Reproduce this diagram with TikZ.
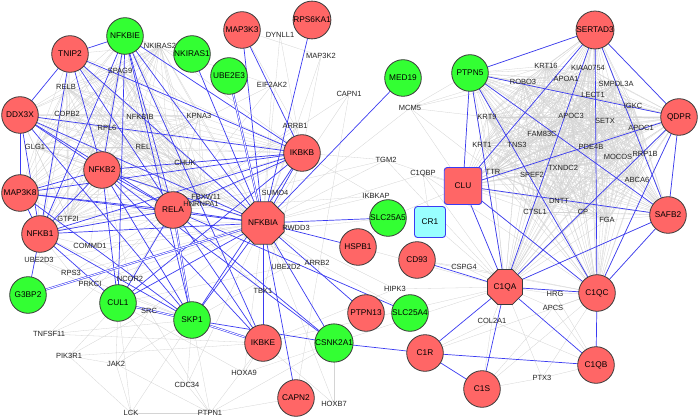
\documentclass[tikz,border=0pt]{standalone}
\usepackage{fontspec}
\setmainfont{Liberation Sans}
\usetikzlibrary{shapes.geometric,backgrounds}
\definecolor{nred}{HTML}{FF6666}
\definecolor{ngreen}{HTML}{33FF33}
\definecolor{ncyan}{HTML}{99FFFF}
\definecolor{ecol}{HTML}{3B3BF2}
\definecolor{ndraw}{HTML}{3A3A3A}
\begin{document}
\begin{tikzpicture}[x=1pt,y=-1pt,
  rn/.style={circle,draw=ndraw,line width=0.8pt,fill=nred,minimum size=36.6pt,inner sep=0pt,font=\fontsize{8.3}{9}\selectfont},
  gn/.style={rn,fill=ngreen},
  octn/.style={regular polygon,regular polygon sides=8,draw=ndraw,line width=0.8pt,fill=nred,minimum size=38pt,inner sep=0pt,font=\fontsize{8.3}{9}\selectfont},
  sqn/.style={rectangle,rounded corners=3pt,draw=ecol,line width=0.9pt,fill=nred,minimum width=37.5pt,minimum height=37pt,inner sep=0pt,font=\fontsize{8.3}{9}\selectfont},
  lb/.style={inner sep=0pt,font=\fontsize{7.5}{8}\selectfont,text=black!85},
  be/.style={draw=ecol,line width=0.7pt},
  bd/.style={draw=ecol,line width=0.55pt,double=white,double distance=0.9pt},
  ge/.style={draw=black!17,line width=0.3pt}]
\useasboundingbox (0,0) rectangle (700,419);
% ---- main nodes
\node[rn] (TNIP2) at (70,54) {TNIP2};
\node[gn] (NFKBIE) at (125,36) {NFKBIE};
\node[gn] (NKIRAS1) at (192,54) {NKIRAS1};
\node[rn] (MAP3K3) at (242,30) {MAP3K3};
\node[rn] (RPS6KA1) at (312,20) {RPS6KA1};
\node[gn] (UBE2E3) at (229,76) {UBE2E3};
\node[gn] (MED19) at (403,78) {MED19};
\node[gn] (PTPN5) at (470,73) {PTPN5};
\node[rn] (SERTAD3) at (595,30) {SERTAD3};
\node[rn] (QDPR) at (679,117) {QDPR};
\node[rn] (DDX3X) at (20,115) {DDX3X};
\node[rn] (MAP3K8) at (20,193) {MAP3K8};
\node[rn] (NFKB2) at (102,170) {NFKB2};
\node[rn] (RELA) at (173,210) {RELA};
\node[rn] (NFKB1) at (40,234) {NFKB1};
\node[rn] (IKBKB) at (302,153) {IKBKB};
\node[octn] (NFKBIA) at (263,223) {NFKBIA};
\node[gn] (SLC25A5) at (388,218) {SLC25A5};
\node[rn] (HSPB1) at (358,247) {HSPB1};
\node[sqn,fill=ncyan,minimum width=31pt,minimum height=31pt] (CR1) at (430,222) {CR1};
\node[sqn] (CLU) at (463,186) {CLU};
\node[rn] (CD93) at (417,260) {CD93};
\node[rn] (SAFB2) at (668,215) {SAFB2};
\node[octn] (C1QA) at (505,287) {C1QA};
\node[rn] (C1QC) at (597,293) {C1QC};
\node[rn] (C1QB) at (596,365) {C1QB};
\node[rn] (C1S) at (482,389) {C1S};
\node[rn] (C1R) at (425,353) {C1R};
\node[gn] (CSNK2A1) at (334,343) {CSNK2A1};
\node[rn] (PTPN13) at (366,313) {PTPN13};
\node[gn] (SLC25A4) at (410,313) {SLC25A4};
\node[rn] (IKBKE) at (263,343) {IKBKE};
\node[rn] (CAPN2) at (296,398) {CAPN2};
\node[gn] (SKP1) at (192,320) {SKP1};
\node[gn] (CUL1) at (118,303) {CUL1};
\node[gn] (G3BP2) at (28,295) {G3BP2};
% ---- small labels
\node[lb] (NKIRAS2) at (160,46) {NKIRAS2};
\node[lb] (SPAG9) at (120,71) {SPAG9};
\node[lb] (RELB) at (66,87) {RELB};
\node[lb] (COPB2) at (67,114) {COPB2};
\node[lb] (NFKBIB) at (140,117) {NFKBIB};
\node[lb] (KPNA3) at (199,116) {KPNA3};
\node[lb] (RPL6) at (107,128) {RPL6};
\node[lb] (REL) at (143,147) {REL};
\node[lb] (CHUK) at (185,163) {CHUK};
\node[lb] (GLG1) at (35,147) {GLG1};
\node[lb] (FBXW11) at (206,197) {FBXW11};
\node[lb] (HNRNPA1) at (201,204) {HNRNPA1};
\node[lb] (GTF2I) at (68,219) {GTF2I};
\node[lb] (COMMD1) at (90,246) {COMMD1};
\node[lb] (UBE2D3) at (39,260) {UBE2D3};
\node[lb] (RPS3) at (71,273) {RPS3};
\node[lb] (NCOR2) at (130,279) {NCOR2};
\node[lb] (PRKCI) at (90,284) {PRKCI};
\node[lb] (SRC) at (149,311) {SRC};
\node[lb] (TNFSF11) at (49,334) {TNFSF11};
\node[lb] (PIK3R1) at (69,356) {PIK3R1};
\node[lb] (JAK2) at (116,364) {JAK2};
\node[lb] (CDC34) at (187,385) {CDC34};
\node[lb] (LCK) at (131,413) {LCK};
\node[lb] (PTPN1) at (210,413) {PTPN1};
\node[lb] (HOXA9) at (244,373) {HOXA9};
\node[lb] (HOXB7) at (334,404) {HOXB7};
\node[lb] (TBK1) at (263,291) {TBK1};
\node[lb] (HIPK3) at (395,289) {HIPK3};
\node[lb] (SUMO4) at (275,193) {SUMO4};
\node[lb] (RWDD3) at (296,228) {RWDD3};
\node[lb] (UBE2D2) at (286,267) {UBE2D2};
\node[lb] (ARRB2) at (317,263) {ARRB2};
\node[lb] (ARRB1) at (295,126) {ARRB1};
\node[lb] (DYNLL1) at (280,35) {DYNLL1};
\node[lb] (MAP3K2) at (321,56) {MAP3K2};
\node[lb] (EIF2AK2) at (272,85) {EIF2AK2};
\node[lb] (CAPN1) at (349,94) {CAPN1};
\node[lb] (MCM5) at (410,108) {MCM5};
\node[lb] (TGM2) at (386,160) {TGM2};
\node[lb] (C1QBP) at (423,174) {C1QBP};
\node[lb] (IKBKAP) at (376,196) {IKBKAP};
\node[lb] (CSPG4) at (464,267) {CSPG4};
\node[lb] (HRG) at (555,294) {HRG};
\node[lb] (APCS) at (553,308) {APCS};
\node[lb] (COL2A1) at (492,321) {COL2A1};
\node[lb] (PTX3) at (542,378) {PTX3};
\node[lb] (KRT16) at (546,66) {KRT16};
\node[lb] (KIAA0754) at (588,68) {KIAA0754};
\node[lb] (ROBO3) at (523,82) {ROBO3};
\node[lb] (APOA1) at (566,79) {APOA1};
\node[lb] (SMPDL3A) at (616,84) {SMPDL3A};
\node[lb] (LECT1) at (593,95) {LECT1};
\node[lb] (IGKC) at (633,106) {IGKC};
\node[lb] (KRT9) at (487,117) {KRT9};
\node[lb] (APOC3) at (571,116) {APOC3};
\node[lb] (SETX) at (605,121) {SETX};
\node[lb] (APOC1) at (641,128) {APOC1};
\node[lb] (FAM83C) at (542,134) {FAM83C};
\node[lb] (KRT1) at (482,145) {KRT1};
\node[lb] (TNS3) at (517,145) {TNS3};
\node[lb] (PDE4B) at (591,147) {PDE4B};
\node[lb] (MOCOS) at (618,157) {MOCOS};
\node[lb] (RRP1B) at (645,154) {RRP1B};
\node[lb] (TXNDC2) at (563,168) {TXNDC2};
\node[lb] (TTR) at (493,172) {TTR};
\node[lb] (SPEF2) at (532,175) {SPEF2};
\node[lb] (ABCA6) at (637,180) {ABCA6};
\node[lb] (DNTT) at (559,201) {DNTT};
\node[lb] (CTSL1) at (535,212) {CTSL1};
\node[lb] (CP) at (583,212) {CP};
\node[lb] (FGA) at (607,220) {FGA};
% ---- edges
\begin{pgfonlayer}{background}
\fill[white] (0,0) rectangle (700,419);
% right cluster (dense grey mesh)
\foreach \a [count=\i] in {PTPN5,SERTAD3,QDPR,SAFB2,C1QC,C1QA,CLU,KRT16,KIAA0754,ROBO3,APOA1,SMPDL3A,LECT1,IGKC,KRT9,APOC3,SETX,APOC1,FAM83C,KRT1,TNS3,PDE4B,MOCOS,RRP1B,TXNDC2,TTR,SPEF2,ABCA6,DNTT,CTSL1,CP,FGA}{
  \foreach \b [count=\j] in {PTPN5,SERTAD3,QDPR,SAFB2,C1QC,C1QA,CLU,KRT16,KIAA0754,ROBO3,APOA1,SMPDL3A,LECT1,IGKC,KRT9,APOC3,SETX,APOC1,FAM83C,KRT1,TNS3,PDE4B,MOCOS,RRP1B,TXNDC2,TTR,SPEF2,ABCA6,DNTT,CTSL1,CP,FGA}{
    \ifnum\j>\i \draw[ge] (\a.center) -- (\b.center); \fi
  }
}
% upper-left grey mesh
\foreach \a [count=\i] in {NKIRAS2,SPAG9,RELB,COPB2,NFKBIB,RPL6,REL,CHUK,GLG1,FBXW11,HNRNPA1,GTF2I,KPNA3}{
  \foreach \b [count=\j] in {NKIRAS2,SPAG9,RELB,COPB2,NFKBIB,RPL6,REL,CHUK,GLG1,FBXW11,HNRNPA1,GTF2I,KPNA3}{
    \ifnum\j>\i \draw[ge] (\a.center) -- (\b.center); \fi
  }
  \foreach \b in {NFKBIA,RELA,NFKB1,NFKB2,NFKBIE,TNIP2,DDX3X,MAP3K8,IKBKB}{
    \draw[ge] (\a.center) -- (\b.center);
  }
}
% other grey edges
\foreach \a/\b in {COMMD1/NFKBIA,COMMD1/RELA,COMMD1/NFKB1,COMMD1/NFKB2,
  UBE2D3/NFKBIA,UBE2D3/CUL1,UBE2D3/SKP1,UBE2D3/NFKB1,
  RPS3/RELA,RPS3/NFKB1,RPS3/NFKBIA,PRKCI/NFKBIA,PRKCI/RELA,PRKCI/SKP1,
  NCOR2/RELA,NCOR2/NFKB1,NCOR2/NFKBIA,NCOR2/NFKB2,
  SRC/CUL1,SRC/SKP1,SRC/NFKBIA,SRC/JAK2,SRC/PTPN1,SRC/PIK3R1,
  TNFSF11/CUL1,TNFSF11/SKP1,TNFSF11/RELA,TNFSF11/IKBKE,
  PIK3R1/JAK2,PIK3R1/CUL1,PIK3R1/LCK,PIK3R1/IKBKE,
  JAK2/PTPN1,JAK2/CUL1,JAK2/LCK,JAK2/SKP1,
  CDC34/SKP1,CDC34/CUL1,CDC34/NFKBIA,CDC34/PTPN1,
  LCK/PTPN1,LCK/SKP1,LCK/CUL1,
  PTPN1/SKP1,PTPN1/CSNK2A1,PTPN1/CAPN2,PTPN1/IKBKE,
  HOXA9/IKBKE,HOXA9/CUL1,HOXA9/CSNK2A1,HOXA9/NFKBIA,
  HOXB7/CSNK2A1,HOXB7/IKBKE,HOXB7/NFKBIA,
  TBK1/NFKBIA,TBK1/IKBKE,TBK1/IKBKB,TBK1/RELA,
  SUMO4/NFKBIA,SUMO4/RELA,SUMO4/IKBKB,
  RWDD3/NFKBIA,RWDD3/SLC25A5,RWDD3/RELA,
  UBE2D2/NFKBIA,UBE2D2/CUL1,UBE2D2/SKP1,
  ARRB2/NFKBIA,ARRB2/SLC25A4,ARRB2/RELA,
  ARRB1/NFKBIA,ARRB1/IKBKB,ARRB1/MAP3K3,ARRB1/RELA,
  DYNLL1/NFKBIA,DYNLL1/IKBKB,
  MAP3K2/NFKBIA,MAP3K2/MAP3K3,MAP3K2/IKBKB,
  EIF2AK2/NFKBIA,EIF2AK2/RELA,EIF2AK2/NFKBIE,EIF2AK2/NFKB2,
  CAPN1/NFKBIA,CAPN1/CAPN2,CAPN1/RELA,
  MCM5/PTPN5,MCM5/NFKBIA,MCM5/KRT9,MCM5/ROBO3,MCM5/KRT16,MCM5/CLU,MCM5/TTR,
  TGM2/CLU,TGM2/NFKBIA,TGM2/C1QA,TGM2/RELA,TGM2/IKBKB,
  C1QBP/CLU,C1QBP/C1QA,C1QBP/C1QC,C1QBP/NFKBIA,C1QBP/CR1,
  IKBKAP/NFKBIA,IKBKAP/IKBKB,IKBKAP/RELA,
  HIPK3/C1QA,HIPK3/NFKBIA,HIPK3/IKBKE,
  CSPG4/CD93,CSPG4/C1QA,CSPG4/C1QC,
  HRG/C1QA,HRG/C1QC,HRG/C1QB,APCS/C1QA,APCS/C1QC,APCS/C1QB,APCS/C1S,
  PTX3/C1QA,PTX3/C1QC,PTX3/C1QB,PTX3/C1S,
  COL2A1/C1QA,COL2A1/C1R,COL2A1/C1S,COL2A1/C1QB,
  C1S/C1QC,C1R/C1QC,C1QA/IKBKE,C1QA/CSNK2A1,HSPB1/SLC25A5,HSPB1/C1QA,
  SLC25A5/CLU,CD93/C1QC,CR1/C1QA}{
  \draw[ge] (\a.center) -- (\b.center);
}
% blue edges, left part
\foreach \b in {RELA,NFKB1,NFKB2,NFKBIE,TNIP2,DDX3X,MAP3K8,IKBKB,IKBKE,SKP1,CUL1,NKIRAS1,MAP3K3,RPS6KA1,CAPN2,CSNK2A1,PTPN13,HSPB1,SLC25A5,MED19}{
  \draw[be] (NFKBIA.center) -- (\b.center);
}
\foreach \a/\b in {RELA/NFKB1,RELA/NFKB2,RELA/NFKBIE,RELA/TNIP2,RELA/DDX3X,RELA/MAP3K8,RELA/IKBKB,RELA/IKBKE,RELA/CUL1,RELA/CSNK2A1,RELA/SLC25A4,
  NFKB1/NFKB2,NFKB1/NFKBIE,NFKB1/TNIP2,NFKB1/DDX3X,NFKB1/MAP3K8,NFKB1/IKBKB,NFKB1/G3BP2,NFKB1/SKP1,NFKB1/CUL1,
  NFKB2/NFKBIE,NFKB2/TNIP2,NFKB2/DDX3X,NFKB2/MAP3K8,NFKB2/IKBKB,NFKB2/SKP1,NFKB2/IKBKE,NFKB2/CSNK2A1,
  NFKBIE/TNIP2,NFKBIE/IKBKB,NFKBIE/CUL1,NFKBIE/SKP1,NFKBIE/IKBKE,
  TNIP2/DDX3X,TNIP2/IKBKB,DDX3X/MAP3K8,DDX3X/IKBKB,DDX3X/SKP1,
  MAP3K8/IKBKB,MAP3K8/SKP1,IKBKB/MAP3K3,IKBKB/SKP1,IKBKB/CUL1,
  CUL1/NFKB2,SKP1/CSNK2A1}{
  \draw[be] (\a.center) -- (\b.center);
}
\foreach \a/\b in {RELA/SKP1,SKP1/CUL1,SKP1/IKBKE,UBE2E3/NFKBIA,G3BP2/NFKBIA}{
  \draw[bd] (\a.center) -- (\b.center);
}
% blue edges, right part
\foreach \a/\b in {PTPN5/SERTAD3,PTPN5/QDPR,PTPN5/CLU,PTPN5/C1QA,PTPN5/C1QC,PTPN5/SAFB2,
  SERTAD3/QDPR,SERTAD3/CLU,SERTAD3/C1QA,SERTAD3/C1QC,SERTAD3/SAFB2,
  QDPR/CLU,QDPR/SAFB2,QDPR/C1QA,QDPR/C1QC,
  SAFB2/CLU,SAFB2/C1QA,SAFB2/C1QC,CLU/C1QA,CLU/C1QC,
  C1QA/C1QC,C1QA/C1QB,C1QA/C1S,C1QA/C1R,C1QA/CD93,C1QC/C1QB,
  C1R/C1QB,C1R/C1S,C1R/CSNK2A1}{
  \draw[be] (\a.center) -- (\b.center);
}
\end{pgfonlayer}
\end{tikzpicture}
\end{document}
